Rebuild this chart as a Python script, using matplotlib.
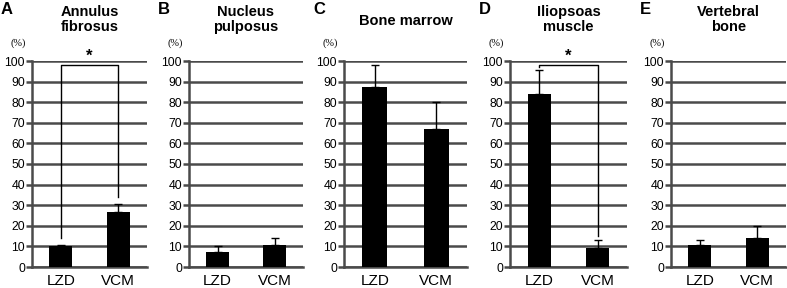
import matplotlib
matplotlib.use("Agg")
import matplotlib.pyplot as plt

categories = ["LZD", "VCM"]
panel_letters = ["A", "B", "C", "D", "E"]
titles = ["Annulus\nfibrosus", "Nucleus\npulposus", "Bone marrow", "Iliopsoas\nmuscle", "Vertebral\nbone"]
means_A = [10, 26.5]
means_B = [7.5, 10.5]
means_C = [87.5, 67]
means_D = [84, 9]
means_E = [10.5, 14]
err_A = [0.5, 4]
err_B = [2.5, 3.5]
err_C = [10.5, 13]
err_D = [11.5, 4]
err_E = [2.5, 6]
yticks = list(range(0, 101, 10))
# significance brackets: (left end, top, right end) in data units
brackets = {0: (14, 98, 34), 3: (97, 98, 15)}

means = [means_A, means_B, means_C, means_D, means_E]
errs = [err_A, err_B, err_C, err_D, err_E]

W, H = 787, 288
fig = plt.figure(figsize=(W / 100, H / 100), dpi=100)
fig.patch.set_facecolor("white")

# axes pixel extents (left, right)
ax_px = [(32, 147), (189, 303), (344, 467), (510, 627), (671, 786)]
top_px, bot_px = 61, 267
gray = "#4a4a4a"

for i, (l, r) in enumerate(ax_px):
    ax = fig.add_axes([l / W, 1 - bot_px / H, (r - l) / W, (bot_px - top_px) / H])
    ax.set_ylim(0, 100)
    ax.set_xlim(-0.5, 1.5)
    ax.set_yticks(yticks)
    ax.yaxis.grid(True, color=gray, linewidth=1.8)
    ax.set_axisbelow(True)
    x = [0, 1]
    ax.bar(x, means[i], width=0.4, color="black", zorder=3)
    ax.errorbar(x, means[i], yerr=[[0, 0], errs[i]], fmt="none", ecolor="black",
                elinewidth=1, capsize=3, capthick=1, zorder=4)
    for s in ["top", "right"]:
        ax.spines[s].set_visible(False)
    ax.spines["left"].set_color(gray)
    ax.spines["left"].set_linewidth(1.8)
    ax.spines["bottom"].set_color(gray)
    ax.spines["bottom"].set_linewidth(1.8)
    ax.tick_params(axis="y", length=4, width=1.8, color=gray, labelsize=8.8, pad=1)
    ax.tick_params(axis="x", length=0, labelsize=11, pad=5)
    ax.set_xticks(x)
    ax.set_xticklabels(categories)
    for lab in ax.get_yticklabels() + ax.get_xticklabels():
        lab.set_fontfamily("Liberation Sans")
    if i in brackets:
        y1, yt, y2 = brackets[i]
        ax.plot([0, 0, 1, 1], [y1, yt, yt, y2], color="black", linewidth=1, zorder=5,
                clip_on=False)
        ax.text(0.5, yt + 0.5, "*", ha="center", va="bottom", fontsize=12,
                fontweight="bold", family="Liberation Sans")
    cx = (l + r) / 2 / W
    if "\n" in titles[i]:
        fig.text(cx, 1 - 5 / H, titles[i], ha="center", va="top", fontsize=10.5,
                 fontweight="bold", family="Liberation Sans", linespacing=1.1)
    else:
        fig.text(cx, 1 - 14 / H, titles[i], ha="center", va="top", fontsize=10.5,
                 fontweight="bold", family="Liberation Sans")
    fig.text((l - 31) / W, 1 - 2 / H, panel_letters[i], ha="left", va="top",
             fontsize=12, fontweight="bold", family="Liberation Sans")
    fig.text((l - 14) / W, 1 - 43 / H, "(%)", ha="center", va="center",
             fontsize=7.5, family="Liberation Serif")

fig.savefig("out.png", dpi=100, facecolor="white")
